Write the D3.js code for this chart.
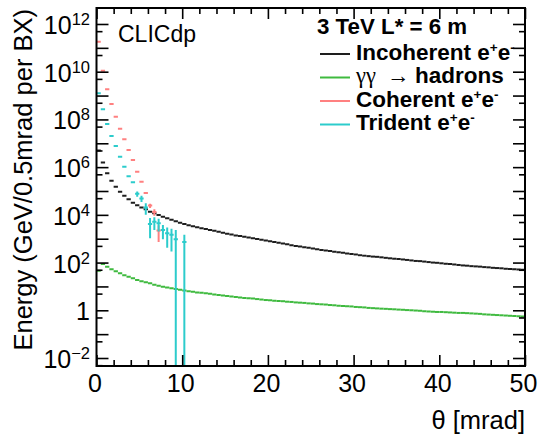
<!DOCTYPE html>
<html>
<head>
<meta charset="utf-8">
<script src="https://cdn.jsdelivr.net/npm/d3@7"></script>
<style>
  body { margin: 0; background: #fff; }
  text { font-family: "Liberation Sans", Arial, Helvetica, sans-serif; fill: #000; }
</style>
</head>
<body>
<div id="chart"></div>
<script>
// 100 bins of 0.5 mrad, theta from 0 to 50 mrad
var binWidth = 0.5;

var incoherent = [5.0e6, 1.58e6, 5.5e5, 2.69e5, 1.51e5, 9.3e4, 6.3e4, 4.47e4, 3.24e4, 2.51e4,
  2.04e4, 1.70e4, 1.35e4, 1.17e4, 9770, 8320, 7240, 6170, 5370, 4680,
  4170, 3630, 3310, 3020, 2750, 2570, 2340, 2140, 1950, 1780,
  1620, 1510, 1380, 1290, 1200, 1120, 1050, 977, 912, 851,
  776, 724, 676, 631, 589, 537, 501, 468, 437, 417,
  389, 363, 339, 324, 302, 282, 269, 257, 240, 229,
  219, 204, 195, 186, 178, 174, 166, 158, 151, 145,
  141, 135, 129, 123, 117, 115, 110, 105, 100, 97.7,
  93.3, 89.1, 87.1, 83.2, 79.4, 75.9, 74.1, 70.8, 69.2, 67.6,
  64.6, 63.1, 60.3, 58.9, 57.5, 55.0, 53.7, 52.5, 51.3, 50.1];

var hadrons = [45.7, 87.1, 67.6, 52.5, 43.7, 35.5, 29.5, 25.7, 21.9, 18.6,
  16.6, 14.8, 13.5, 11.7, 10.7, 9.77, 9.12, 8.32, 7.76, 7.24,
  6.76, 6.31, 6.03, 5.62, 5.37, 5.13, 4.90, 4.57, 4.37, 4.17,
  3.98, 3.80, 3.63, 3.47, 3.31, 3.16, 3.09, 2.95, 2.82, 2.69,
  2.63, 2.51, 2.45, 2.40, 2.29, 2.24, 2.14, 2.09, 2.04, 1.95,
  1.91, 1.82, 1.78, 1.74, 1.66, 1.62, 1.55, 1.51, 1.48, 1.45,
  1.38, 1.35, 1.32, 1.26, 1.23, 1.20, 1.17, 1.15, 1.12, 1.10,
  1.07, 1.05, 1.02, 1.00, 0.977, 0.955, 0.912, 0.891, 0.871, 0.851,
  0.851, 0.832, 0.813, 0.794, 0.776, 0.776, 0.759, 0.741, 0.724, 0.708,
  0.676, 0.661, 0.646, 0.631, 0.617, 0.603, 0.589, 0.575, 0.562, 0.550];

var coherent = [1.78e11, 1.10e10, 1.82e9, 4.47e8, 1.29e8, 4.07e7, 1.48e7, 5.25e6, 2.0e6, 6.46e5,
  2.45e5, 8.3e4, 2.45e4, 1.32e4, 2200];
var coherentErr = [0, 0, 0, 0, 0, 0, 0, 0, 0, 0,
  0, 0, 4900, 4000, 1480];

var trident = [1.26e9, 2.69e8, 6.46e7, 2.04e7, 7.76e6, 2.75e6, 1.05e6, 4.17e5, 2.34e5, 7.59e4,
  4.9e4, 2.04e4, 4170, 5130, 4470, 2340, 1700, 1450, 955, 0, 724];
var tridentErr = [0, 0, 0, 0, 0, 0, 0, 0, 0, 19000,
  14700, 10200, 3130, 2820, 2460, 1400, 1280, 1160, 1340, 0, 740];

var xTicks = [0, 10, 20, 30, 40, 50];
var yExponents = [-2, 0, 2, 4, 6, 8, 10, 12];

var colors = { incoherent: "#1e1e1e", hadrons: "#3fba3f", coherent: "#ff8080", trident: "#2ccccc" };

var W = 543, H = 438;
var frame = { left: 96.5, right: 525, top: 8, bottom: 366 };

var svg = d3.select("#chart").append("svg")
    .attr("width", W).attr("height", H);

var x = d3.scaleLinear().domain([0, 50]).range([frame.left, frame.right]);
var y = d3.scaleLog().domain([Math.pow(10, -2.335), Math.pow(10, 12.67)]).range([frame.bottom, frame.top]);

// clip for the histograms
svg.append("clipPath").attr("id", "plotclip")
    .append("rect")
    .attr("x", frame.left).attr("y", frame.top)
    .attr("width", frame.right - frame.left).attr("height", frame.bottom - frame.top);

var plot = svg.append("g").attr("clip-path", "url(#plotclip)");

function drawHist(values, errors, color) {
    var bins = values.map(function(v, i) {
        return { v: v, e: errors ? errors[i] : 0, lo: i * binWidth, hi: (i + 1) * binWidth };
    }).filter(function(d) { return d.v > 0; });

    var g = plot.append("g").attr("stroke", color).attr("stroke-width", 2);

    g.selectAll("line.bin").data(bins).join("line")
        .attr("class", "bin")
        .attr("x1", d => x(d.lo)).attr("x2", d => x(d.hi))
        .attr("y1", d => y(d.v)).attr("y2", d => y(d.v));

    //vertical error bars, down to the frame when the lower edge is <= 0
    g.selectAll("line.err").data(bins.filter(d => d.e > 0)).join("line")
        .attr("class", "err")
        .attr("x1", d => x((d.lo + d.hi) / 2)).attr("x2", d => x((d.lo + d.hi) / 2))
        .attr("y1", d => y(d.v + d.e))
        .attr("y2", d => (d.v - d.e > 0 ? y(d.v - d.e) : frame.bottom));
}

drawHist(incoherent, null, colors.incoherent);
drawHist(hadrons, null, colors.hadrons);
drawHist(coherent, coherentErr, colors.coherent);
drawHist(trident, tridentErr, colors.trident);

// ticks (ROOT style, pointing inward, on all four sides)
var xMinor = d3.range(0, 51, 2).filter(v => v % 10 !== 0);
var yMajor = d3.range(-2, 13).map(e => Math.pow(10, e));
var yMinor = d3.range(-3, 12).map(e => 5 * Math.pow(10, e)).filter(v => v >= y.domain()[0]);

function tickAxis(axisFn, scale, values, size, transform) {
    var g = svg.append("g")
        .attr("transform", transform)
        .call(axisFn(scale).tickValues(values).tickSize(-size).tickFormat(""));
    g.select(".domain").remove();
    g.selectAll(".tick line").attr("stroke", "#000").attr("stroke-width", 1.6);
}

tickAxis(d3.axisBottom, x, xTicks, 11, "translate(0," + frame.bottom + ")");
tickAxis(d3.axisBottom, x, xMinor, 6, "translate(0," + frame.bottom + ")");
tickAxis(d3.axisTop, x, xTicks, 11, "translate(0," + frame.top + ")");
tickAxis(d3.axisTop, x, xMinor, 6, "translate(0," + frame.top + ")");
tickAxis(d3.axisLeft, y, yMajor, 12, "translate(" + frame.left + ",0)");
tickAxis(d3.axisLeft, y, yMinor, 6, "translate(" + frame.left + ",0)");
tickAxis(d3.axisRight, y, yMajor, 12, "translate(" + frame.right + ",0)");
tickAxis(d3.axisRight, y, yMinor, 6, "translate(" + frame.right + ",0)");

svg.append("rect")
    .attr("x", frame.left).attr("y", frame.top)
    .attr("width", frame.right - frame.left).attr("height", frame.bottom - frame.top)
    .attr("fill", "none").attr("stroke", "#000").attr("stroke-width", 2);

// x tick labels
svg.append("g").selectAll("text").data(xTicks).join("text")
    .attr("x", d => x(d) - 1.5).attr("y", 392)
    .attr("text-anchor", "middle")
    .attr("font-size", 25)
    .text(d => d);

// y tick labels 10^n
var yl = svg.append("g").selectAll("text").data(yExponents).join("text")
    .attr("x", 90).attr("y", d => y(Math.pow(10, d)) + 10)
    .attr("text-anchor", "end")
    .attr("font-size", 25);
yl.each(function(d) {
    var t = d3.select(this);
    if (d === 0) { t.text("1"); return; }
    t.append("tspan").text("10");
    t.append("tspan").attr("dy", -9).attr("font-size", 16.5)
        .text(d < 0 ? "\u2212" + (-d) : d);
});

// axis titles
svg.append("text")
    .attr("x", frame.right).attr("y", 429)
    .attr("text-anchor", "end").attr("font-size", 25.5)
    .text("\u03b8 [mrad]");

svg.append("text")
    .attr("transform", "translate(32,9) rotate(-90)")
    .attr("text-anchor", "end").attr("font-size", 25.5)
    .text("Energy (GeV/0.5mrad per BX)");

svg.append("text")
    .attr("x", 118).attr("y", 42)
    .attr("font-size", 23)
    .text("CLICdp");

// legend
var legend = svg.append("g");
legend.append("text")
    .attr("x", 317).attr("y", 34)
    .attr("font-size", 22.3).attr("font-weight", "bold")
    .text("3 TeV L* = 6 m");

var legendKeys = ["incoherent", "hadrons", "coherent", "trident"];
var legendNames = ["Incoherent", "hadrons", "Coherent", "Trident"];

legendKeys.forEach(function(k, i) {
    var base = 59.5 + i * 23.5;
    legend.append("line")
        .attr("x1", 320).attr("x2", 350)
        .attr("y1", base - 5.5).attr("y2", base - 5.5)
        .attr("stroke", colors[k]).attr("stroke-width", 2);
    var t = legend.append("text")
        .attr("x", 356).attr("y", base)
        .attr("font-size", 22.5).attr("font-weight", "bold");
    if (k === "hadrons") {
        t.append("tspan").attr("font-weight", "normal").attr("font-family", "Liberation Serif, serif").text("\u03b3\u03b3");
        t.append("tspan").attr("x", 387).attr("font-weight", "normal").text("\u2192");
        t.append("tspan").attr("x", 415).text(legendNames[i]);
    } else {
        t.append("tspan").text(legendNames[i] + " e");
        t.append("tspan").attr("dy", -8).attr("font-size", 13.5).text("+");
        t.append("tspan").attr("dy", 8).text("e");
        t.append("tspan").attr("dy", -8).attr("font-size", 13.5).text("-");
    }
});
</script>
</body>
</html>
